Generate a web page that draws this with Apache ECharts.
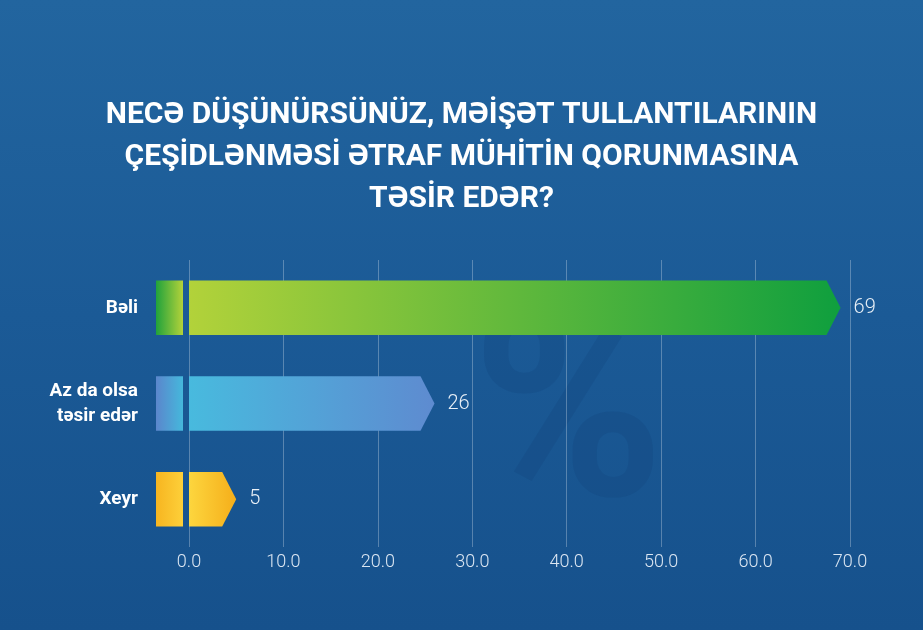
<!DOCTYPE html>
<html>
<head>
<meta charset="utf-8">
<script src="https://cdn.jsdelivr.net/npm/echarts@6/dist/echarts.min.js"></script>
<style>
  html, body { margin: 0; padding: 0; }
  #chart { width: 923px; height: 630px; }
</style>
</head>
<body>
<div id="chart"></div>
<script>
var titleText = 'NECƏ DÜŞÜNÜRSÜNÜZ, MƏİŞƏT TULLANTILARININ\nÇEŞİDLƏNMƏSİ ƏTRAF MÜHİTİN QORUNMASINA\nTƏSİR EDƏR?';
var categories = ['Bəli', 'Az da olsa\ntəsir edər', 'Xeyr'];
var values = [69, 26, 5];
var xTicks = [0, 10, 20, 30, 40, 50, 60, 70];

// gradient stops per bar: [main left, main right, chip left, chip right]
var barColors = [
    ['#b2d23a', '#0f9f3e', '#20a23c', '#b4d23a'],
    ['#48bade', '#5e8bd0', '#5b86cc', '#45b8dc'],
    ['#fdd63e', '#f5ae1a', '#f7b520', '#fdd03a']
];

var ARROW = 14, CHIP_W = 27, CHIP_GAP = 6, LABEL_GAP = 13;

function grad(a, b) {
    return new echarts.graphic.LinearGradient(0, 0, 1, 0, [
        {offset: 0, color: a}, {offset: 1, color: b}
    ]);
}

var myChart = echarts.init(document.getElementById('chart'));

var option = {
    backgroundColor: new echarts.graphic.LinearGradient(0, 0, 0, 1, [
        {offset: 0, color: '#22659f'},
        {offset: 0.5, color: '#1b5a96'},
        {offset: 1, color: '#16518c'}
    ]),
    title: {
        text: titleText,
        left: 'center',
        top: 89,
        textStyle: {
            color: '#ffffff',
            fontFamily: 'Roboto',
            fontWeight: 'bold',
            fontSize: 30,
            lineHeight: 42
        }
    },
    graphic: [{
        type: 'text',
        left: 472,
        top: 300,
        z: -1,
        style: {
            text: '%',
            fontSize: 260,
            fontFamily: 'Roboto',
            fontWeight: 'bold',
            fill: 'rgba(15, 60, 115, 0.2)'
        }
    }],
    grid: {
        left: 189,
        right: 73,
        top: 260,
        bottom: 83
    },
    xAxis: {
        type: 'value',
        min: xTicks[0],
        max: xTicks[xTicks.length - 1],
        interval: 10,
        axisLine: {show: false},
        axisTick: {show: false},
        splitLine: {lineStyle: {color: 'rgba(255,255,255,0.28)', width: 1}},
        axisLabel: {
            color: '#dbe6f2',
            fontSize: 18,
            fontFamily: 'Roboto',
            fontWeight: 300,
            margin: 6,
            formatter: function (v) { return v.toFixed(1); }
        }
    },
    yAxis: {
        type: 'category',
        data: categories,
        inverse: true,
        axisLine: {show: false},
        axisTick: {show: false},
        splitLine: {show: false},
        axisLabel: {
            color: '#ffffff',
            fontFamily: 'Roboto',
            fontWeight: 'bold',
            fontSize: 19,
            lineHeight: 25,
            margin: 51,
            align: 'right'
        }
    },
    series: [{
        type: 'custom',
        clip: false,
        encode: {x: 1, y: 0},
        data: values.map(function (v, i) { return [i, v]; }),
        renderItem: function (params, api) {
            var idx = api.value(0);
            var val = api.value(1);
            var start = api.coord([0, idx]);
            var end = api.coord([val, idx]);
            var h = api.size([0, 1])[1] * 0.57;
            var y0 = start[1] - h / 2;
            var tip = end[0];
            var rEnd = tip - ARROW;
            var c = barColors[idx];
            return {
                type: 'group',
                children: [{
                    type: 'rect',
                    shape: {x: start[0] - CHIP_GAP - CHIP_W, y: y0, width: CHIP_W, height: h},
                    style: {fill: grad(c[2], c[3])}
                }, {
                    type: 'polygon',
                    shape: {points: [
                        [start[0], y0], [rEnd, y0], [tip, start[1]],
                        [rEnd, y0 + h], [start[0], y0 + h]
                    ]},
                    style: {fill: grad(c[0], c[1])}
                }, {
                    type: 'text',
                    style: {
                        x: tip + LABEL_GAP,
                        y: start[1],
                        text: String(val),
                        fill: '#e9f0f7',
                        fontSize: 20,
                        fontFamily: 'Roboto',
                        fontWeight: 300,
                        verticalAlign: 'middle',
                        align: 'left'
                    }
                }]
            };
        }
    }]
};

myChart.setOption(option, true);
</script>
</body>
</html>
